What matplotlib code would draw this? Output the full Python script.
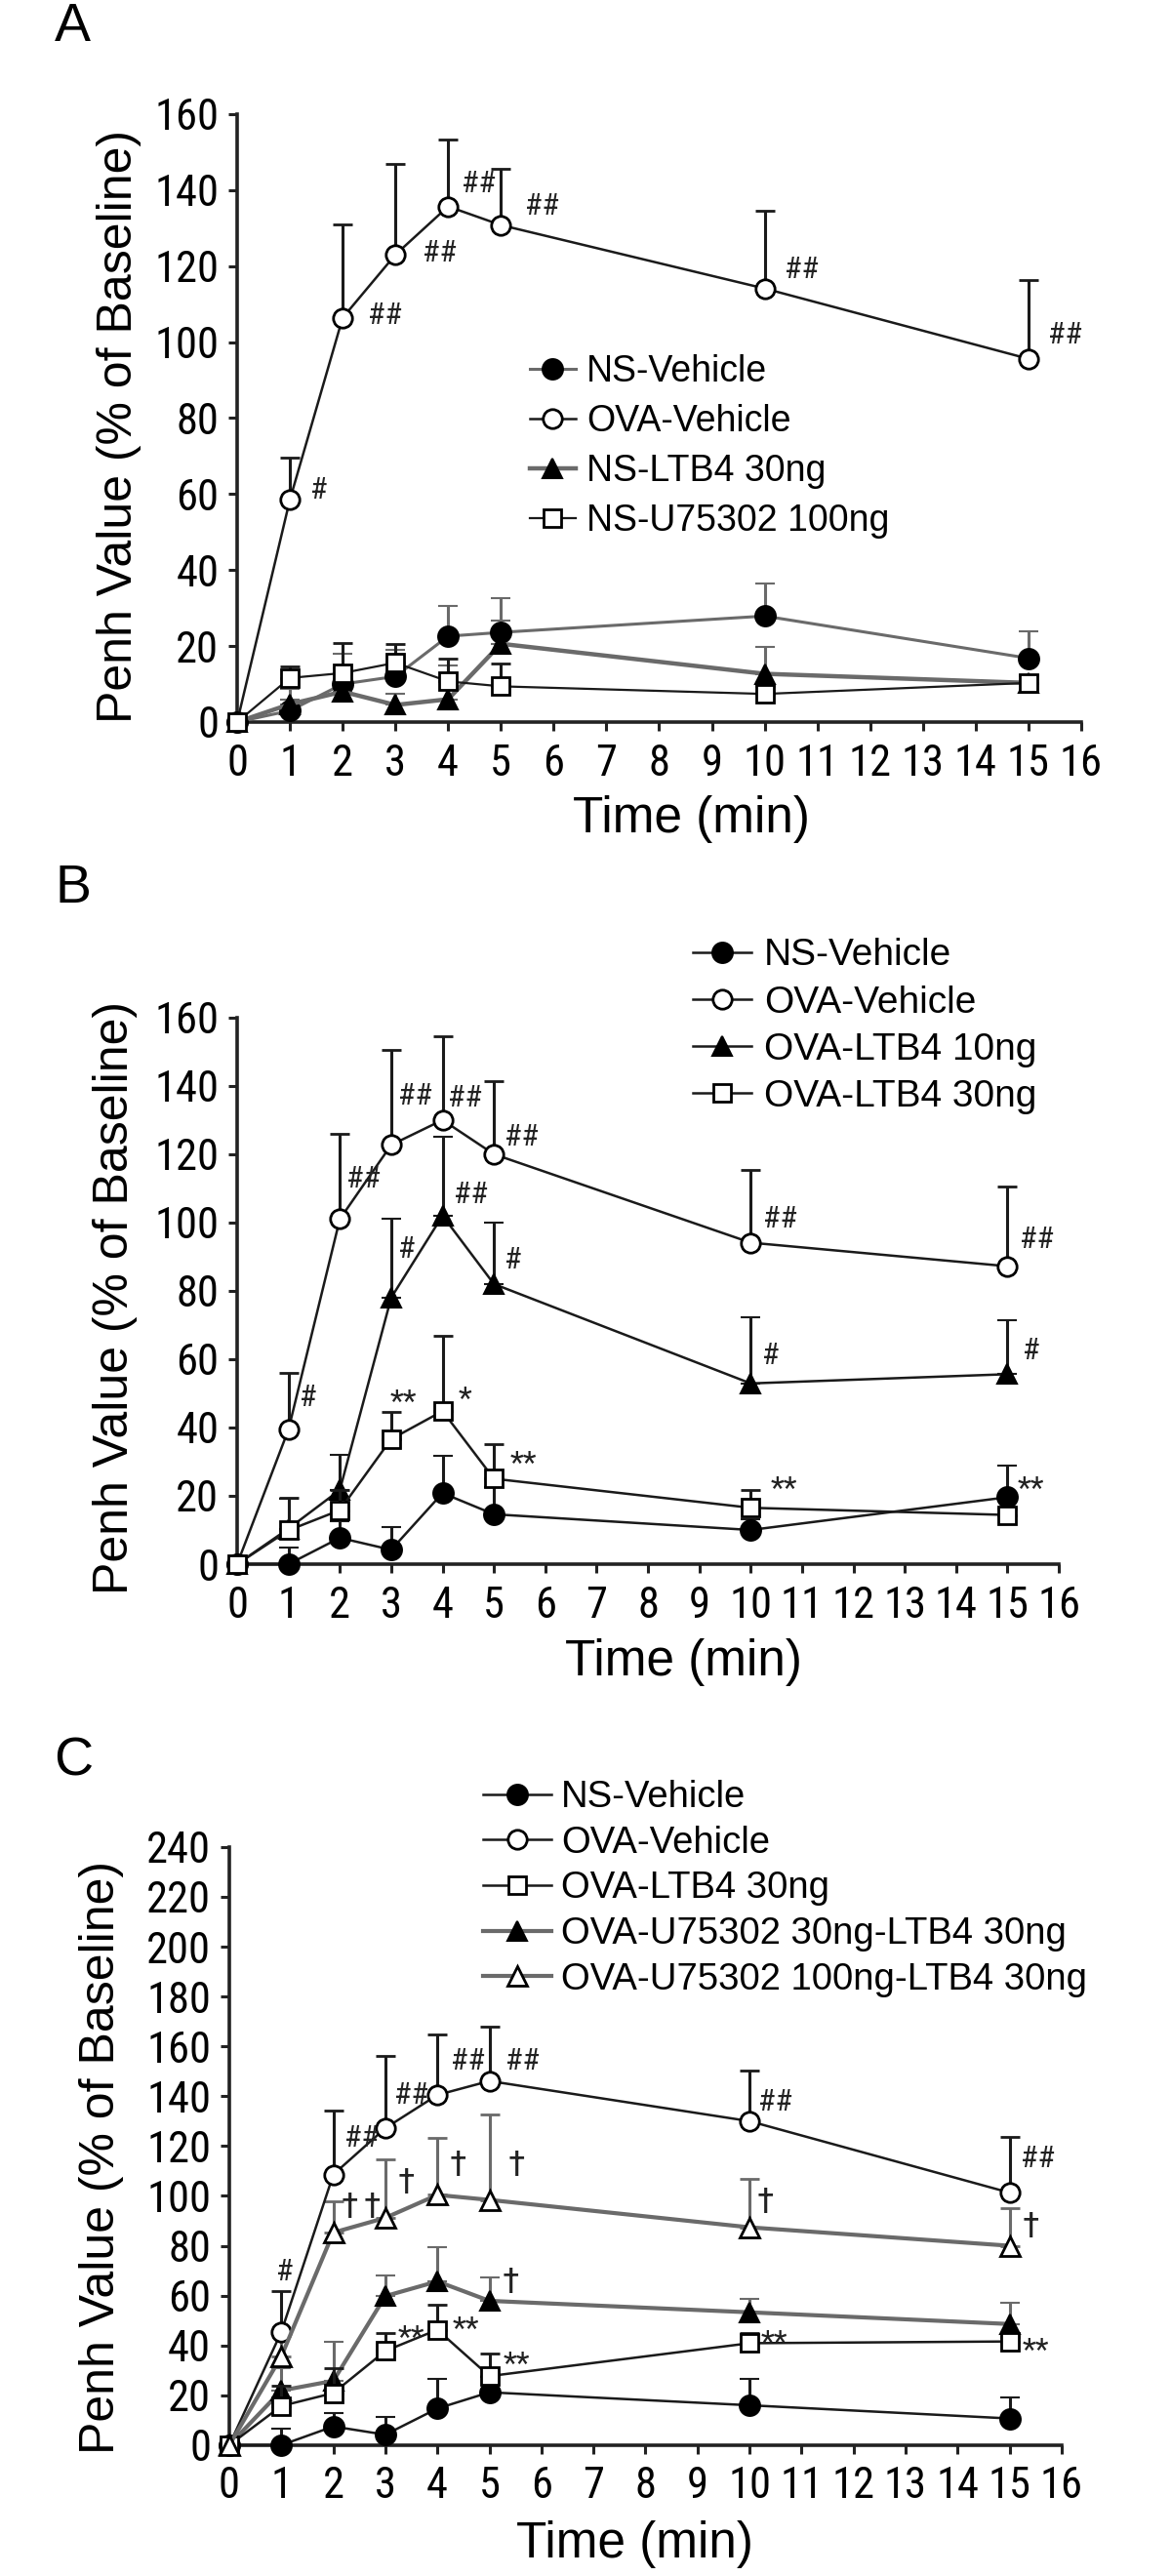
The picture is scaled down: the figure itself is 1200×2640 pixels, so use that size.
import numpy as np
import matplotlib
matplotlib.use("Agg")
import matplotlib.pyplot as plt
from matplotlib import font_manager

# ---------------- data ----------------
times = [0, 1, 2, 3, 4, 5, 10, 15]
x_ticks = list(range(0, 17))

# Panel A
a_labels = ["NS-Vehicle", "OVA-Vehicle", "NS-LTB4 30ng", "NS-U75302 100ng"]
a_ns_veh = [0, 3, 10, 12, 22.6, 23.6, 27.9, 16.8]
a_ns_veh_err = [0, 3, 8, 7, 8, 9, 8.5, 7]
a_ova_veh = [0, 58.5, 106.4, 123, 135.7, 130.8, 114.1, 95.6]
a_ova_veh_err = [0, 11, 24.6, 23.8, 17.5, 14.7, 20.4, 20.7]
a_ns_ltb4 = [0, 4.7, 8, 4.5, 6, 20.6, 12.7, 10.3]
a_ns_ltb4_err = [0, 4, 6, 3, 9, 6, 7, 2]
a_ns_u75 = [0, 11.6, 12.9, 15.6, 10.7, 9.4, 7.4, 10.3]
a_ns_u75_err = [0, 3, 8, 5, 6, 6, 2, 2]

# Panel B
b_labels = ["NS-Vehicle", "OVA-Vehicle", "OVA-LTB4 10ng", "OVA-LTB4 30ng"]
b_ns_veh = [0, 0, 7.7, 4.2, 20.8, 14.6, 10, 19.6]
b_ns_veh_err = [0, 5, 5, 6.6, 10.8, 8, 3, 9.3]
b_ova_veh = [0, 39.4, 101, 122.7, 130, 120, 94.1, 87.2]
b_ova_veh_err = [0, 16.6, 25, 27.8, 24.6, 21.5, 21.2, 23.4]
b_ltb4_10 = [0, 10.4, 21.7, 78, 102, 82, 52.9, 55.6]
b_ltb4_10_err = [0, 8.6, 10.3, 23, 23, 18, 19.3, 15.7]
b_ltb4_30 = [0, 9.9, 15.8, 36.6, 44.8, 25, 16.5, 14.4]
b_ltb4_30_err = [0, 9.4, 6, 7.9, 22, 10, 5.1, 2]

# Panel C
c_labels = ["NS-Vehicle", "OVA-Vehicle", "OVA-LTB4 30ng",
            "OVA-U75302 30ng-LTB4 30ng", "OVA-U75302 100ng-LTB4 30ng"]
c_ns_veh = [0, 0, 7.5, 4.2, 14.7, 21.2, 16, 10.7]
c_ns_veh_err = [0, 6.5, 5.2, 7.2, 11.7, 6, 10.7, 8.5]
c_ova_veh = [0, 45.4, 108.6, 127.2, 140.5, 146.1, 130, 101.3]
c_ova_veh_err = [0, 16.4, 25.8, 28.9, 24.3, 21.9, 20.3, 22.4]
c_ltb4_30 = [0, 15.7, 20.9, 37.8, 46.3, 27.7, 40.9, 41.6]
c_ltb4_30_err = [0, 8, 10, 7, 10.2, 9.2, 3.9, 2]
c_u75_30 = [0, 21.9, 25.8, 59.8, 65.7, 57.9, 53.3, 48.6]
c_u75_30_err = [0, 9, 15.7, 8.2, 13.8, 9.4, 5.3, 8.5]
c_u75_100 = [0, 35.6, 85.3, 91.2, 100.4, 98.4, 87.4, 80]
c_u75_100_err = [0, 10, 12.5, 23.6, 22.9, 34.1, 19.6, 14.9]

# significance marks (x, y, text)
a_marks_x = [1.55, 2.8, 3.83, 4.57, 5.78, 10.7, 15.7]
a_marks_y = [61, 107, 123.4, 141.7, 135.7, 119, 101.7]
a_marks_t = ["#", "##", "##", "##", "##", "##", "##"]

b_marks_x = [1.39, 2.47, 3.46, 4.43, 5.53, 3.31, 4.55, 5.38, 3.24, 4.43, 5.57,
             10.57, 10.38, 10.65, 15.57, 15.46, 15.46]
b_marks_y = [48.6, 112.7, 137, 136.5, 125, 92, 108, 89, 50, 51, 32,
             101, 61, 24.7, 95, 62.5, 24.7]
b_marks_t = ["#", "##", "##", "##", "##", "#", "##", "#", "**", "*", "**",
             "##", "#", "**", "##", "#", "**"]

c_marks_x = [1.07, 2.54, 3.5, 4.58, 5.63, 10.5, 15.55,
             2.32, 2.75, 3.4, 4.4, 5.52, 10.3, 15.4, 5.41,
             3.5, 4.55, 5.52, 10.48, 15.5]
c_marks_y = [69.6, 123, 140.4, 154, 154, 137.5, 115,
             95, 95, 105, 112, 112, 97, 87.4, 65,
             46.7, 50, 36, 44.8, 41.6]
c_marks_t = ["#", "##", "##", "##", "##", "##", "##",
             "\u2020", "\u2020", "\u2020", "\u2020", "\u2020", "\u2020", "\u2020", "\u2020",
             "**", "**", "**", "**", "**"]

# ---------------- style ----------------
names = {f.name for f in font_manager.fontManager.ttflist}
narrow = "Liberation Sans"
for cand in ["Liberation Sans Narrow", "Arial Narrow", "Roboto Condensed"]:
    if cand in names:
        narrow = cand
        break
plt.rcParams["font.family"] = ["Liberation Sans", "DejaVu Sans"]

DARK = "#1a1a1a"
GRAY = "#6a6a6a"

def st_filled_circle(color=DARK, lw=1.8):
    return dict(marker="o", ms=15, mfc="black", mec="black", mew=1.5,
                color=color, lw=lw, ecolor=color)

def st_open_circle(color=DARK, lw=1.8):
    return dict(marker="o", ms=14, mfc="white", mec="black", mew=2,
                color=color, lw=lw, ecolor=color)

def st_filled_tri(color=DARK, lw=1.8):
    return dict(marker="^", ms=15, mfc="black", mec="black", mew=1.5,
                color=color, lw=lw, ecolor=color)

def st_open_tri(color=DARK, lw=1.8):
    return dict(marker="^", ms=15, mfc="white", mec="black", mew=2,
                color=color, lw=lw, ecolor=color)

def st_open_square(color=DARK, lw=1.8):
    return dict(marker="s", ms=12.5, mfc="white", mec="black", mew=2,
                color=color, lw=lw, ecolor=color)

fig = plt.figure(figsize=(12, 26.4), dpi=100)

def make_axes(rect, ymax, ystep):
    ax = fig.add_axes(rect)
    ax.set_xlim(0, 16)
    ax.set_ylim(0, ymax)
    for s in ["top", "right"]:
        ax.spines[s].set_visible(False)
    for s in ["left", "bottom"]:
        ax.spines[s].set_linewidth(2.6)
        ax.spines[s].set_color("#222222")
    ax.set_xticks(x_ticks)
    ax.set_yticks(np.arange(0, ymax + 1, ystep))
    ax.tick_params(axis="both", direction="out", length=6.5, width=2.2,
                   color="#222222", labelsize=32)
    ax.tick_params(axis="x", pad=9)
    ax.tick_params(axis="y", pad=7)
    for lab in ax.get_xticklabels() + ax.get_yticklabels():
        lab.set_family([narrow, "DejaVu Sans"])
    return ax

def draw_series(ax, y, err, style, z):
    cont = ax.errorbar(times, y, yerr=[np.zeros(len(err)), err],
                       elinewidth=2.2, capsize=7.5, capthick=2.2, zorder=z, **style)
    cont[0].set_clip_on(False)
    for c in cont[1]:
        c.set_clip_on(False)
    for c in cont[2]:
        c.set_clip_on(False)
    return cont[0]

def draw_marks(ax, xs, ys, ts):
    for x, y, t in zip(xs, ys, ts):
        dy = -7 if t.startswith("*") else 0
        ax.annotate(t, (x, y), xytext=(0, dy), textcoords="offset points",
                    ha="center", va="center", fontsize=23 if t != "\u2020" else 26,
                    family=[narrow, "DejaVu Sans"], color="#222222", zorder=10)

def legend(ax, handles, labels, anchor, fs, hl, htp, ls):
    leg = ax.legend(handles, labels, loc="upper left", bbox_to_anchor=anchor,
                    bbox_transform=fig.transFigure,
                    frameon=False, fontsize=fs, handlelength=hl, handletextpad=htp,
                    labelspacing=ls, borderpad=0, borderaxespad=0, numpoints=1)
    return leg

# ---------------- panel A ----------------
axA = make_axes([0.2025, 0.7197, 0.7208, 0.2360], 160, 20)
hA = [
    draw_series(axA, a_ns_veh, a_ns_veh_err, st_filled_circle(GRAY, 2.2), 3),
    draw_series(axA, a_ova_veh, a_ova_veh_err, st_open_circle(DARK, 1.8), 4),
    draw_series(axA, a_ns_ltb4, a_ns_ltb4_err, st_filled_tri(GRAY, 3.2), 3),
    draw_series(axA, a_ns_u75, a_ns_u75_err, st_open_square(DARK, 1.6), 4),
]
draw_marks(axA, a_marks_x, a_marks_y, a_marks_t)
legend(axA, hA, a_labels, (0.4525, 0.8625), 27, 1.25, 0.3, 0.4)

# ---------------- panel B ----------------
axB = make_axes([0.2025, 0.3928, 0.7017, 0.2122], 160, 20)
hB = [
    draw_series(axB, b_ns_veh, b_ns_veh_err, st_filled_circle(DARK, 1.8), 3),
    draw_series(axB, b_ova_veh, b_ova_veh_err, st_open_circle(DARK, 1.8), 4),
    draw_series(axB, b_ltb4_10, b_ltb4_10_err, st_filled_tri(DARK, 1.8), 3),
    draw_series(axB, b_ltb4_30, b_ltb4_30_err, st_open_square(DARK, 1.8), 4),
]
draw_marks(axB, b_marks_x, b_marks_y, b_marks_t)
legend(axB, hB, b_labels, (0.5917, 0.6358), 28, 1.55, 0.33, 0.31)

# ---------------- panel C ----------------
axC = make_axes([0.1958, 0.0508, 0.7108, 0.2322], 240, 20)
hC = [
    draw_series(axC, c_ns_veh, c_ns_veh_err, st_filled_circle(DARK, 1.8), 3),
    draw_series(axC, c_ova_veh, c_ova_veh_err, st_open_circle(DARK, 1.8), 4),
    draw_series(axC, c_ltb4_30, c_ltb4_30_err, st_open_square(DARK, 1.8), 4),
    draw_series(axC, c_u75_30, c_u75_30_err, st_filled_tri(GRAY, 3.0), 3),
    draw_series(axC, c_u75_100, c_u75_100_err, st_open_tri(GRAY, 3.0), 4),
]
draw_marks(axC, c_marks_x, c_marks_y, c_marks_t)
legend(axC, hC, c_labels, (0.4125, 0.3091), 27.5, 1.83, 0.26, 0.28)

# ---------------- labels ----------------
W, H = 1200.0, 2640.0
def fx(px):
    return px / W
def fy(py):
    return 1 - py / H

ylabel = "Penh Value (% of Baseline)"
xlabel = "Time (min)"
for (lx, ly) in [(122, 437), (118, 1330), (104, 2211)]:
    fig.text(fx(lx), fy(ly), ylabel, rotation=90, ha="center", va="center", fontsize=36)
for (lx, ly) in [(708, 840), (700, 1703), (650, 2607)]:
    fig.text(fx(lx), fy(ly), xlabel, ha="center", va="center", fontsize=37)
for (lx, ly, t) in [(74, 28, "A"), (75, 911, "B"), (75, 1805, "C")]:
    fig.text(fx(lx), fy(ly), t, ha="center", va="center", fontsize=40)

fig.savefig("out.png", dpi=100)
